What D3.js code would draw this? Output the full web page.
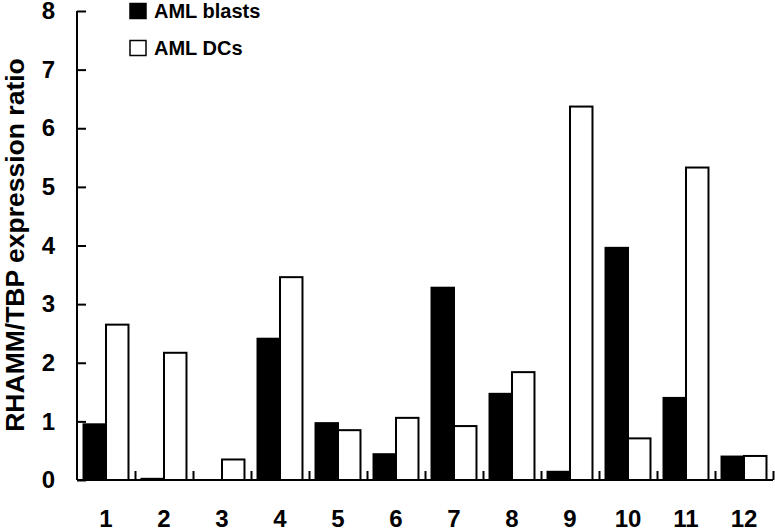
<!DOCTYPE html>
<html>
<head>
<meta charset="utf-8">
<script src="https://cdn.jsdelivr.net/npm/d3@7"></script>
<style>
  body { margin: 0; background: #fff; }
  text { font-family: "Liberation Sans", Arial, sans-serif; font-weight: bold; }
</style>
</head>
<body>
<script>
const w = 775;
const h = 532;

// data
const categories = ["1", "2", "3", "4", "5", "6", "7", "8", "9", "10", "11", "12"];
const series = ["AML blasts", "AML DCs"];
const blasts = [0.95, 0.02, 0, 2.41, 0.97, 0.44, 3.28, 1.47, 0.14, 3.96, 1.40, 0.40];
const dcs = [2.65, 2.17, 0.35, 3.46, 0.85, 1.06, 0.92, 1.84, 6.37, 0.71, 5.33, 0.41];
const yTicks = [0, 1, 2, 3, 4, 5, 6, 7, 8];

const plotLeft = 77, plotRight = 773, plotTop = 11, plotBottom = 480;

const svg = d3.select("body")
    .append("svg")
    .attr("width", w)
    .attr("height", h);

// scales
const x = d3.scaleBand().domain(categories).range([plotLeft, plotRight]);
const xEdge = d3.scaleLinear().domain([0, categories.length]).range([plotLeft, plotRight]);
const xSub = d3.scaleBand().domain(series).range([0, x.bandwidth()]).paddingOuter(0.29);
const y = d3.scaleLinear().domain([0, 8]).range([plotBottom, plotTop]);

const rows = categories.map((c, i) => ({cat: c, values: [
    {s: series[0], v: blasts[i]},
    {s: series[1], v: dcs[i]}
]}));

// bars
svg.append("g")
    .selectAll("g")
    .data(rows)
    .enter()
    .append("g")
    .attr("transform", d => "translate(" + x(d.cat) + ",0)")
    .selectAll("rect")
    .data(d => d.values)
    .enter()
    .append("rect")
    .attr("x", d => xSub(d.s))
    .attr("width", xSub.bandwidth())
    .attr("y", d => y(d.v))
    .attr("height", d => plotBottom - y(d.v))
    .attr("fill", d => d.s === series[0] ? "#000" : "#fff")
    .attr("stroke", "#000")
    .attr("stroke-width", d => d.v > 0 ? 2 : 0);

// y axis
const yAxis = svg.append("g")
    .attr("transform", "translate(" + plotLeft + ",0)")
    .call(d3.axisLeft(y).tickValues(yTicks).tickSize(-9).tickPadding(22).tickFormat(d3.format("d")));
yAxis.select(".domain").attr("stroke-width", 2).attr("d", "M0," + plotTop + "V" + plotBottom);
yAxis.selectAll(".tick line").attr("stroke-width", 2);
yAxis.selectAll("text").attr("font-size", 24).attr("font-family", "Liberation Sans, Arial, sans-serif").attr("font-weight", "bold");

// x axis: ticks at category edges
const xAxis = svg.append("g")
    .attr("transform", "translate(0," + plotBottom + ")")
    .call(d3.axisBottom(xEdge).tickValues(d3.range(1, categories.length + 1)).tickSize(-9).tickFormat(""));
xAxis.select(".domain").attr("stroke-width", 2).attr("d", "M" + plotLeft + ",0H" + plotRight);
xAxis.selectAll(".tick line").attr("stroke-width", 2);

// x labels at category centers
const xLabels = svg.append("g")
    .attr("transform", "translate(0," + plotBottom + ")")
    .call(d3.axisBottom(x).tickSize(0).tickPadding(30));
xLabels.select(".domain").remove();
xLabels.selectAll("text").attr("font-size", 24).attr("font-family", "Liberation Sans, Arial, sans-serif").attr("font-weight", "bold");

// y title
svg.append("text")
    .attr("transform", "translate(24,245) rotate(-90)")
    .attr("text-anchor", "middle")
    .attr("font-size", 26.5)
    .text("RHAMM/TBP expression ratio");

// legend
const legend = svg.append("g")
    .selectAll("g")
    .data(series)
    .enter()
    .append("g")
    .attr("transform", (d, i) => "translate(129," + (3 + i * 37) + ")");

legend.append("rect")
    .attr("x", 1)
    .attr("y", 0.5)
    .attr("width", 16)
    .attr("height", 15)
    .attr("fill", (d, i) => i === 0 ? "#000" : "#fff")
    .attr("stroke", "#000")
    .attr("stroke-width", 1.5);

legend.append("text")
    .attr("x", 25)
    .attr("y", 15)
    .attr("font-size", 20)
    .text(d => d);
</script>
</body>
</html>
